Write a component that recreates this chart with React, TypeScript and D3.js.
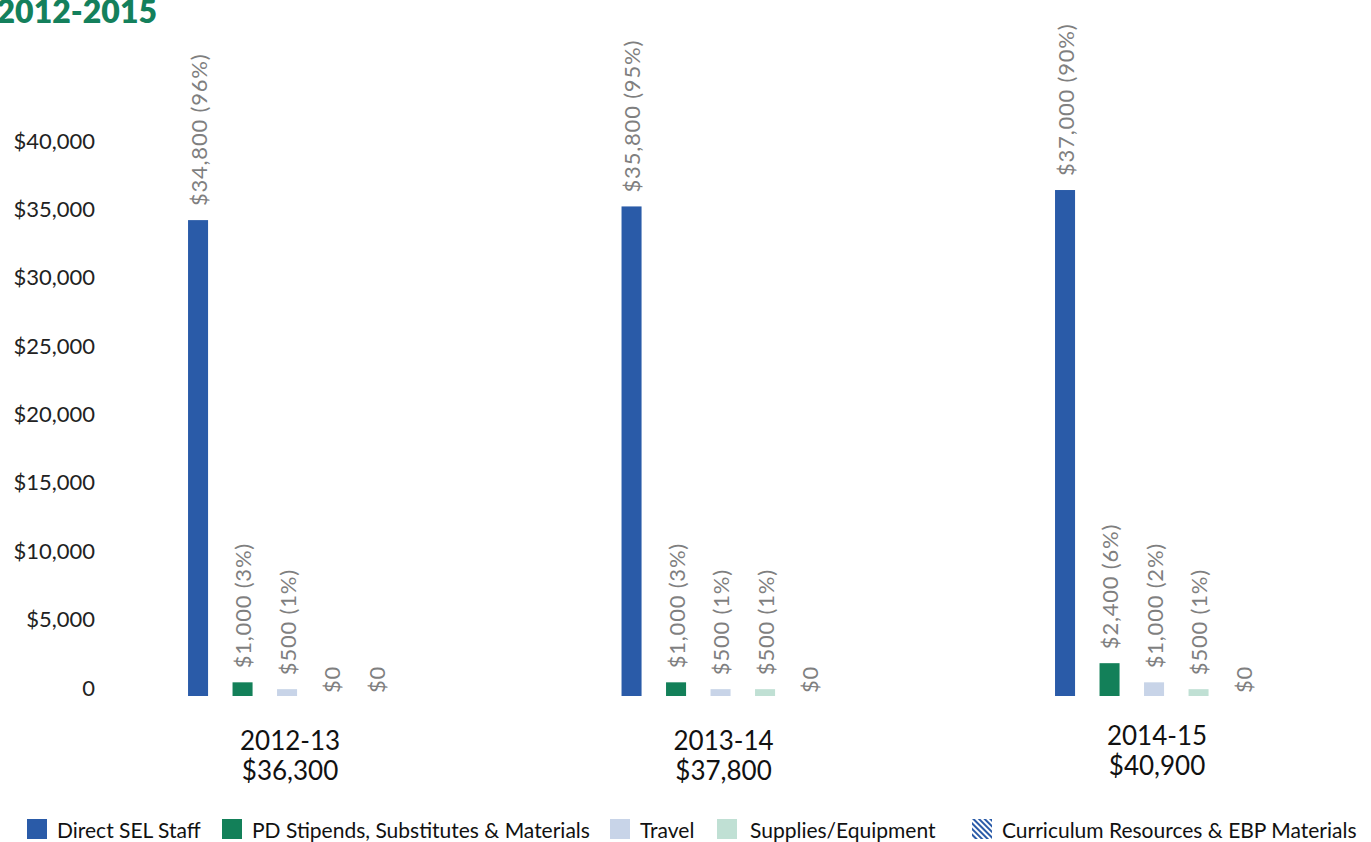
import * as d3 from "d3";

const categories = ["2012-13", "2013-14", "2014-15"];
const totals = ["$36,300", "$37,800", "$40,900"];
const seriesNames = [
  "Direct SEL Staff",
  "PD Stipends, Substitutes & Materials",
  "Travel",
  "Supplies/Equipment",
  "Curriculum Resources & EBP Materials",
];
const directStaff = [34800, 35800, 37000];
const pdStipends = [1000, 1000, 2400];
const travel = [500, 500, 1000];
const supplies = [0, 500, 500];
const curriculum = [0, 0, 0];
const directPct = [96, 95, 90];
const pdPct = [3, 3, 6];
const travelPct = [1, 1, 2];
const suppliesPct = [null, 1, 1];
const curriculumPct = [null, null, null];
const yTicks = [0, 5000, 10000, 15000, 20000, 25000, 30000, 35000, 40000];

const seriesValues = [directStaff, pdStipends, travel, supplies, curriculum];
const seriesPct = [directPct, pdPct, travelPct, suppliesPct, curriculumPct];
const colors = ["#2a5ba8", "#138059", "#c8d4e8", "#c0e0d4", "url(#stripes)"];

// legend layout (x of swatch)
const legendX = [27, 222, 610, 717, 972];

const W = 1371;
const H = 842;

export default function App() {
  const y = d3.scaleLinear().domain([0, 40000]).range([696, 149]);
  const x0 = d3
    .scaleBand()
    .domain(categories)
    .range([175.8, 1265.3])
    .paddingInner(0.4867)
    .paddingOuter(0);
  const x1 = d3
    .scaleBand()
    .domain(seriesNames)
    .range([0, x0.bandwidth()])
    .paddingInner(0.55)
    .paddingOuter(0.275);
  const fmt = d3.format("$,");
  const labelFont = "Lato, 'Open Sans', sans-serif";

  return (
    <svg
      width={W}
      height={H}
      style={{ position: "absolute", left: 0, top: 0, background: "#fff" }}
      fontFamily={labelFont}
    >
      <defs>
        <pattern
          id="stripes"
          width="4"
          height="4"
          patternUnits="userSpaceOnUse"
          patternTransform="rotate(-45)"
        >
          <rect width="4" height="4" fill="#fff" />
          <rect width="2" height="4" fill="#2a5ba8" />
        </pattern>
      </defs>

      <text
        x={157}
        y={23}
        textAnchor="end"
        fontSize={32}
        fontWeight={800}
        fill="#14805c"
      >
        2012-2015
      </text>

      {/* y axis labels */}
      {yTicks.map((t) => (
        <text
          key={t}
          x={95}
          y={y(t) - 9}
          textAnchor="end"
          dominantBaseline="central"
          fontSize={22}
          fill="#222"
        >
          {t === 0 ? "0" : fmt(t)}
        </text>
      ))}

      {/* bars */}
      {categories.map((c, ci) => (
        <g key={c} transform={`translate(${x0(c)},0)`}>
          {seriesNames.map((s, si) => {
            const v = seriesValues[si][ci];
            const p = seriesPct[si][ci];
            const bx = x1(s)!;
            const cx = bx + x1.bandwidth() / 2;
            const ty = y(v) - (v > 0 ? 14 : 3);
            return (
              <g key={s}>
                {v > 0 && (
                  <rect
                    x={bx}
                    y={y(v)}
                    width={x1.bandwidth()}
                    height={y(0) - y(v)}
                    fill={colors[si]}
                  />
                )}
                <text
                  transform={`translate(${cx},${ty}) rotate(-90)`}
                  dominantBaseline="central"
                  fontSize={22}
                  letterSpacing={0.8}
                  fill="#7f7f7f"
                >
                  {p === null ? fmt(v) : `${fmt(v)} (${p}%)`}
                </text>
              </g>
            );
          })}
          <text
            x={x0.bandwidth() / 2 + 3}
            y={ci === 2 ? 745 : 750}
            textAnchor="middle"
            fontSize={26}
            fill="#111"
          >
            {c}
          </text>
          <text
            x={x0.bandwidth() / 2 + 3}
            y={ci === 2 ? 775 : 780}
            textAnchor="middle"
            fontSize={26}
            fill="#111"
          >
            {totals[ci]}
          </text>
        </g>
      ))}

      {/* legend */}
      {seriesNames.map((s, si) => (
        <g key={s} transform={`translate(${legendX[si]},819)`}>
          <rect width={20} height={20} fill={colors[si]} />
          <text
            x={si === 3 ? 33 : 30}
            y={10}
            dominantBaseline="central"
            fontSize={21}
            fill="#111"
          >
            {s}
          </text>
        </g>
      ))}
    </svg>
  );
}
